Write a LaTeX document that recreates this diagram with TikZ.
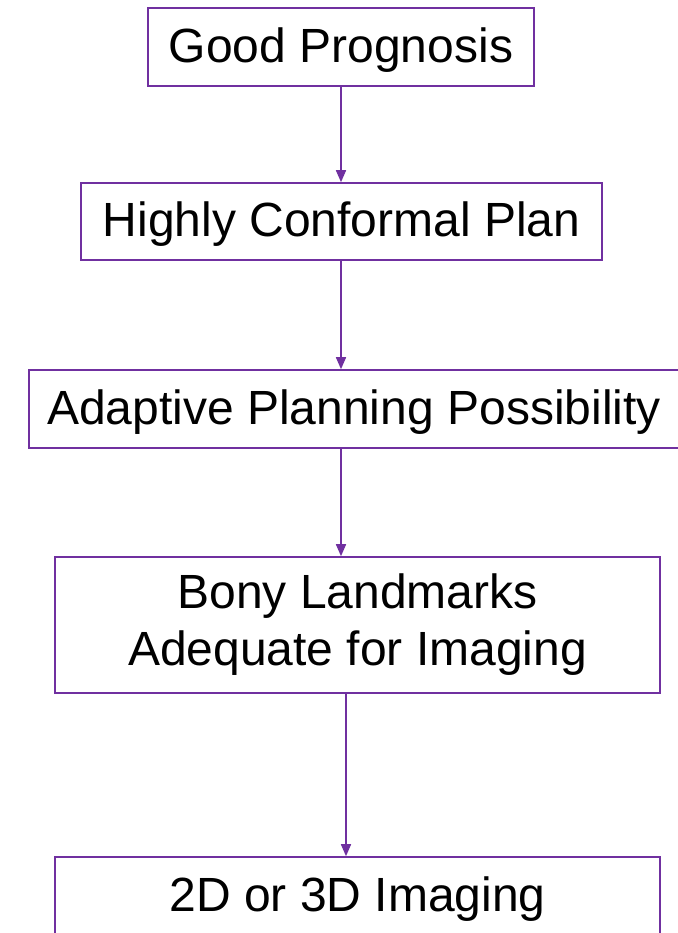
\documentclass[tikz,border=0pt]{standalone}
\usepackage{fontspec}
\setmainfont{Liberation Sans}
\usetikzlibrary{arrows.meta}
\definecolor{flowpurple}{RGB}{112,48,160}
\begin{document}
\begin{tikzpicture}[x=1pt,y=-1pt,
  box/.style={draw=flowpurple,line width=1.6pt,rectangle,inner sep=0pt,align=center,
    font=\fontsize{48}{57}\selectfont,text=black},
  oneline/.style={text height=34.5pt,text depth=4pt},
  conn/.style={draw=flowpurple,line width=1.6pt,-{Triangle[length=12pt,width=10pt]}}]
\useasboundingbox[fill=white] (0,0) rectangle (677,933);
\node[box,oneline,minimum width=386pt,minimum height=78pt] (b1) at (341,47) {Good Prognosis};
\node[box,oneline,minimum width=521pt,minimum height=77pt] (b2) at (341.5,221.5) {Highly Conformal Plan};
\node[box,oneline,minimum width=650pt,minimum height=78pt] (b3) at (354,409) {Adaptive Planning Possibility};
\node[box,minimum width=605pt,minimum height=136pt] (b4) at (357.5,625) {Bony Landmarks\\Adequate for Imaging};
\node[box,oneline,minimum width=605pt,minimum height=78pt] (b5) at (357.5,896) {2D or 3D Imaging};
\coordinate (ax) at (341,0);
\coordinate (bx) at (346,0);
\draw[conn] (b1.south -| ax) -- (b2.north -| ax);
\draw[conn] (b2.south -| ax) -- (b3.north -| ax);
\draw[conn] (b3.south -| ax) -- (b4.north -| ax);
\draw[conn] (b4.south -| bx) -- (b5.north -| bx);
\end{tikzpicture}
\end{document}
